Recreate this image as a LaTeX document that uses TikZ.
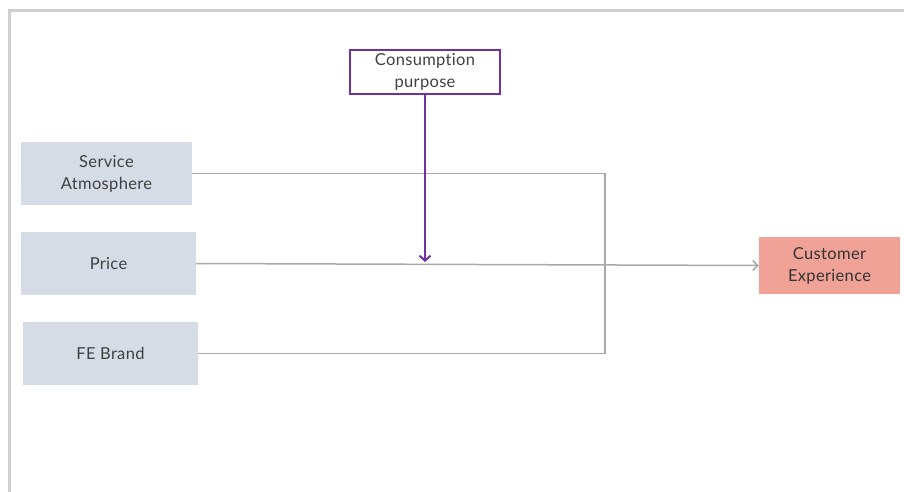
\documentclass[tikz,border=0pt]{standalone}
\usepackage{fontspec}
\setmainfont[Ligatures=NoCommon, LetterSpace=2]{Lato}
\usetikzlibrary{arrows.meta}
\definecolor{framegray}{HTML}{D0D0D0}
\definecolor{linegray}{HTML}{A9A9A9}
\definecolor{boxblue}{HTML}{D6DCE5}
\definecolor{boxsalmon}{HTML}{F0A297}
\definecolor{purpleline}{HTML}{7030A0}
\definecolor{textgray}{HTML}{404040}
\tikzset{
  boxfont/.style={font=\fontsize{16.5}{22}\selectfont},
  factor/.style={fill=boxblue, text=textgray, align=center, boxfont, inner sep=0pt},
  outcome/.style={fill=boxsalmon, text=textgray!80!black, align=center, boxfont, inner sep=0pt},
  moderator/.style={draw=purpleline, line width=2pt, text=textgray, align=center, boxfont, inner sep=0pt},
  link/.style={draw=linegray, line width=1.5pt},
  linkarrow/.style={link, -{Straight Barb[length=5pt, width=10pt, line width=1.5pt]}},
  modarrow/.style={draw=purpleline, line width=2.5pt, -{Straight Barb[length=5pt, width=11pt, line width=2pt]}}
}
\begin{document}
\begin{tikzpicture}[x=1pt, y=-1pt]
  \useasboundingbox (0,0) rectangle (904,492);
  % frame
  \draw[framegray, line width=3pt] (9,492) -- (9,11) -- (904,11);

  % boxes
  \node[moderator, minimum width=150pt, minimum height=44pt] (cp) at (425,72) {\raisebox{-1.5pt}{\parbox{140pt}{\centering Consumption\\purpose}}};
  \node[factor, minimum width=171pt, minimum height=63pt] (sa) at (106.5,173.5) {\raisebox{-2pt}{\parbox{160pt}{\centering Service\\Atmosphere}}};
  \node[factor, minimum width=175pt, minimum height=63pt] (pr) at (108.5,263.5) {Price};
  \node[factor, minimum width=175pt, minimum height=63pt] (fe) at (110.5,353.5) {FE Brand};
  \node[outcome, minimum width=141pt, minimum height=57pt] (ce) at (829.5,265.5) {\raisebox{-1.5pt}{\parbox{135pt}{\centering Customer\\Experience}}};

  \coordinate (joint) at (605,265);
  \coordinate (modtip) at (425,262);

  % connectors
  \draw[link] (sa.east) -- (sa.east -| joint) -- (fe.east -| joint) -- (fe.east);
  \draw[linkarrow] (pr.east) -- (ce.west);
  \draw[modarrow] (cp.south) -- (modtip);
\end{tikzpicture}
\end{document}
